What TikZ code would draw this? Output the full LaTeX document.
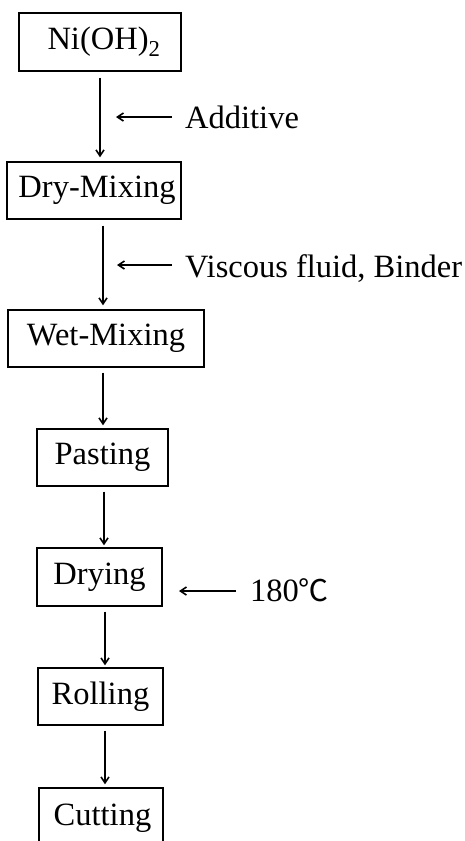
\documentclass[tikz,border=0pt]{standalone}
\usepackage{fontspec}
\setmainfont{Liberation Serif}
\newfontfamily\cjkfont{Noto Sans CJK KR}
\usetikzlibrary{arrows.meta,calc}
\begin{document}
\begin{tikzpicture}[x=1pt,y=1pt,
  every node/.style={font=\fontsize{32.5}{38}\selectfont},
  stepbox/.style={draw,line width=1.3pt,inner sep=0pt,minimum height=57pt},
  arr/.style={line width=1.4pt,-{Straight Barb[length=6pt,width=8pt,line width=1.6pt]}},
  side/.style={anchor=base west,inner sep=0pt}]
\useasboundingbox (0,0) rectangle (464,-841);
\node[stepbox,minimum width=162pt,minimum height=58pt] (A) at (100,-42) {\hspace{8pt}Ni(OH)\textsubscript{2}};
\node[stepbox,minimum width=174pt] (B) at (94,-190.5) {\hspace{6pt}Dry-Mixing};
\node[stepbox,minimum width=196pt] (C) at (106,-338.5) {Wet-Mixing};
\node[stepbox,minimum width=131pt] (D) at (102.5,-457.5) {Pasting};
\node[stepbox,minimum width=125pt,minimum height=58pt] (E) at (99.5,-577) {Drying};
\node[stepbox,minimum width=125pt] (F) at (100.5,-696.5) {Rolling};
\node[stepbox,minimum width=124pt,minimum height=60pt] (G) at (101,-818) {\hspace{3pt}Cutting};
% vertical connectors
\draw[arr] ($(A.south)+(0,-6)$) -- ($(A.south |- B.north)+(0,4)$);
\draw[arr] ($(B.south)+(9,-6)$) coordinate (b1) -- ($(b1 |- C.north)+(0,4)$);
\draw[arr] ($(C.south)+(-3,-5)$) coordinate (c1) -- ($(c1 |- D.north)+(0,3)$);
\draw[arr] ($(D.south)+(1.5,-5)$) coordinate (d1) -- ($(d1 |- E.north)+(0,2)$);
\draw[arr] ($(E.south)+(5.5,-5)$) coordinate (e1) -- ($(e1 |- F.north)+(0,2)$);
\draw[arr] ($(F.south)+(4.5,-5)$) coordinate (f1) -- ($(f1 |- G.north)+(0,3)$);
% side inputs
\node[side] (T1) at (185,-128) {Additive};
\coordinate (t1) at (116,-117);
\draw[arr] (172,-117) coordinate (s1) -- (t1);
\node[side] (T2) at (185,-277) {Viscous fluid, Binder};
\coordinate (t2) at (117,-265);
\draw[arr] (172,-265) coordinate (s2) -- (t2);
\node[side] (T3) at (250,-601) {180{\cjkfont\fontsize{30}{36}\selectfont ℃}};
\coordinate (t3) at (179,-591);
\draw[arr] (236,-591) coordinate (s3) -- (t3);
\end{tikzpicture}
\end{document}
